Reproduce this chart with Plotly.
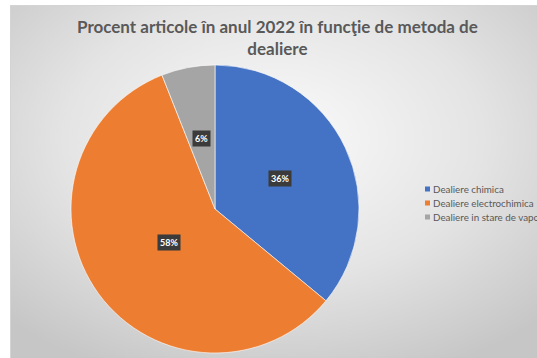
import base64
import math
import plotly.graph_objects as go

# Data
categories = ["Dealiere chimica", "Dealiere electrochimica", "Dealiere in stare de vapori"]
shares = [36, 58, 6]
colors = ["#4472C4", "#ED7D31", "#A5A5A5"]
title_lines = ["Procent articole în anul 2022 în funcţie de metoda de", "dealiere"]

W, H = 537, 358

# Chart area and pie geometry (pixels)
area_x0, area_y0 = 10, 5
cx, cy, r = 215, 209, 144


def px(x):
    return x / W


def py(y):
    return 1 - y / H


# Radial gradient backdrop for the chart area
aw, ah = W - area_x0, H - area_y0
svg = f"""<svg xmlns='http://www.w3.org/2000/svg' viewBox='0 0 {aw} {ah}' preserveAspectRatio='none' width='{aw}' height='{ah}'>
<defs><radialGradient id='g' cx='0.5' cy='0.38' r='0.72'>
<stop offset='0' stop-color='#fbfbfb'/><stop offset='0.55' stop-color='#e4e4e4'/>
<stop offset='1' stop-color='#c6c6c6'/></radialGradient></defs>
<rect width='{aw}' height='{ah}' fill='url(#g)'/>
<line x1='0.5' y1='0' x2='0.5' y2='{ah}' stroke='#d4d4d4'/>
<line x1='0' y1='0.5' x2='{aw}' y2='0.5' stroke='#d4d4d4'/></svg>"""
bg_src = "data:image/svg+xml;base64," + base64.b64encode(svg.encode()).decode()

fig = go.Figure(
    go.Pie(
        labels=categories,
        values=shares,
        marker=dict(colors=colors, line=dict(color="rgba(255,255,255,0.6)", width=1)),
        sort=False,
        direction="clockwise",
        rotation=0,
        textinfo="none",
        hoverinfo="label+percent",
        showlegend=False,
        domain=dict(x=[px(cx - r), px(cx + r)], y=[py(cy + r), py(cy - r)]),
    )
)

annotations = []
shapes = [
    # white page margins to the left and above the chart area
    dict(type="rect", xref="paper", yref="paper", x0=-0.01, x1=px(area_x0), y0=-0.01, y1=1.01,
         fillcolor="white", line=dict(width=0), layer="below"),
    dict(type="rect", xref="paper", yref="paper", x0=-0.01, x1=1.01, y0=py(area_y0), y1=1.01,
         fillcolor="white", line=dict(width=0), layer="below"),
]

# Title (two centred lines)
annotations.append(dict(
    x=277 / W, y=py(14), xref="paper", yref="paper", xanchor="center", yanchor="top",
    text="<br>".join(f"<b>{t}</b>" for t in title_lines), showarrow=False,
    font=dict(family="Lato", size=17, color="#595959"),
))

# Percentage labels in dark boxes at mid-angle of each slice
total = sum(shares)
acc = 0
for v in shares:
    mid = (acc + v / 2) / total * 2 * math.pi
    acc += v
    lx = cx + 0.5 * r * math.sin(mid)
    ly = cy - 0.5 * r * math.cos(mid)
    annotations.append(dict(
        x=px(lx), y=py(ly), xref="paper", yref="paper",
        text=f"<b>{round(v / total * 100)}%</b>", showarrow=False,
        font=dict(family="Lato", size=9, color="white"),
        bgcolor="#3b3b3b", borderpad=2,
    ))

# Compact legend: small swatch + label per category
leg_x, leg_y, leg_step = 425, 189, 14
for i, (name, col) in enumerate(zip(categories, colors)):
    yc = leg_y + i * leg_step
    shapes.append(dict(
        type="rect", xref="paper", yref="paper",
        x0=px(leg_x), x1=px(leg_x + 5), y0=py(yc + 2.5), y1=py(yc - 2.5),
        fillcolor=col, line=dict(width=0),
    ))
    annotations.append(dict(
        x=px(leg_x + 6), y=py(yc), xref="paper", yref="paper",
        xanchor="left", yanchor="middle", text=name, showarrow=False,
        font=dict(family="Lato", size=9.8, color="#595959"),
    ))

fig.update_layout(
    width=W, height=H,
    margin=dict(l=0, r=0, t=0, b=0),
    paper_bgcolor="#cacaca",
    plot_bgcolor="rgba(0,0,0,0)",
    images=[dict(
        source=bg_src, xref="paper", yref="paper",
        x=px(area_x0), y=py(area_y0), sizex=aw / W, sizey=ah / H,
        xanchor="left", yanchor="top", sizing="stretch", layer="below",
    )],
    shapes=shapes,
    annotations=annotations,
)

fig.write_html("out.html")
